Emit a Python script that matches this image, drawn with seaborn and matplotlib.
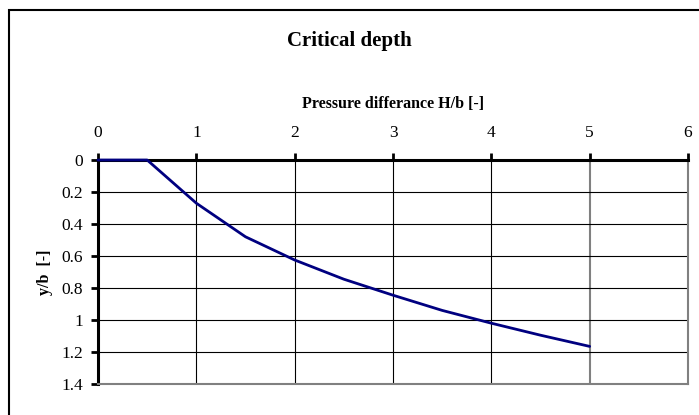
import matplotlib
matplotlib.use("Agg")
import matplotlib.pyplot as plt
import seaborn as sns
import pandas as pd
from matplotlib.patches import Rectangle

# Critical depth curve: pressure difference H/b against depth y/b
pressure_diff = [0.0, 0.5, 1.0, 1.5, 2.0, 2.5, 3.0, 3.5, 4.0, 4.5, 5.0]
depth_ratio = [0.0, 0.0, 0.27, 0.48, 0.625, 0.745, 0.845, 0.94, 1.02, 1.095, 1.165]
x_ticks = [0, 1, 2, 3, 4, 5, 6]
y_ticks = [0, 0.2, 0.4, 0.6, 0.8, 1.0, 1.2, 1.4]
y_tick_labels = ["0", "0.2", "0.4", "0.6", "0.8", "1", "1.2", "1.4"]

df = pd.DataFrame({"H/b": pressure_diff, "y/b": depth_ratio})

sns.set_theme(style="white")
plt.rcParams["font.family"] = ["Liberation Serif", "DejaVu Serif"]

fig = plt.figure(figsize=(6.99, 4.15), dpi=100)
fig.patch.set_facecolor("white")

# outer chart frame (left and top edges visible)
fig.patches.append(Rectangle((8.5 / 699, -0.05), 1.2, 1 - 10.5 / 415 + 0.05,
                             transform=fig.transFigure, fill=False,
                             edgecolor="black", linewidth=1.5))

ax = fig.add_axes([98 / 699, 1 - 384 / 415, (688 - 98) / 699, (384 - 160) / 415])

sns.lineplot(data=df, x="H/b", y="y/b", ax=ax, color="#000080",
             linewidth=2.0, estimator=None, sort=False)
for ln in ax.lines:
    ln.set_zorder(5)
    ln.set_clip_on(False)

ax.set_xlim(0, 6)
ax.set_ylim(1.4, 0)
ax.set_xticks(x_ticks)
ax.set_xticklabels([str(t) for t in x_ticks])
ax.set_yticks(y_ticks)
ax.set_yticklabels(y_tick_labels)

ax.xaxis.tick_top()
ax.xaxis.set_label_position("top")
ax.tick_params(axis="x", which="both", top=True, bottom=False, direction="out",
               length=5, width=2, color="black", labelsize=12.5, pad=9,
               labelcolor="black")
ax.tick_params(axis="y", which="both", left=True, direction="out",
               length=5, width=2, color="black", labelsize=12.5, pad=6,
               labelcolor="black")

ax.grid(True, color="black", linewidth=0.8)
ax.xaxis.get_gridlines()[5].set_color("#808080")
ax.xaxis.get_gridlines()[5].set_linewidth(1.5)

for side in ["left", "top"]:
    ax.spines[side].set_color("black")
    ax.spines[side].set_linewidth(2.2)
for side in ["right", "bottom"]:
    ax.spines[side].set_color("#808080")
    ax.spines[side].set_linewidth(1.5)
    ax.spines[side].set_visible(True)

ax.set_xlabel("Pressure differance H/b [-]", fontsize=11.5, fontweight="bold",
              labelpad=12, color="black")
ax.set_ylabel("y/b  [-]", fontsize=11.5, fontweight="bold", labelpad=6,
              color="black")

fig.text(0.5, 1 - 41 / 415, "Critical depth", ha="center", va="center",
         fontsize=15, fontweight="bold", color="black")

fig.savefig("out.png", dpi=100, facecolor="white")
